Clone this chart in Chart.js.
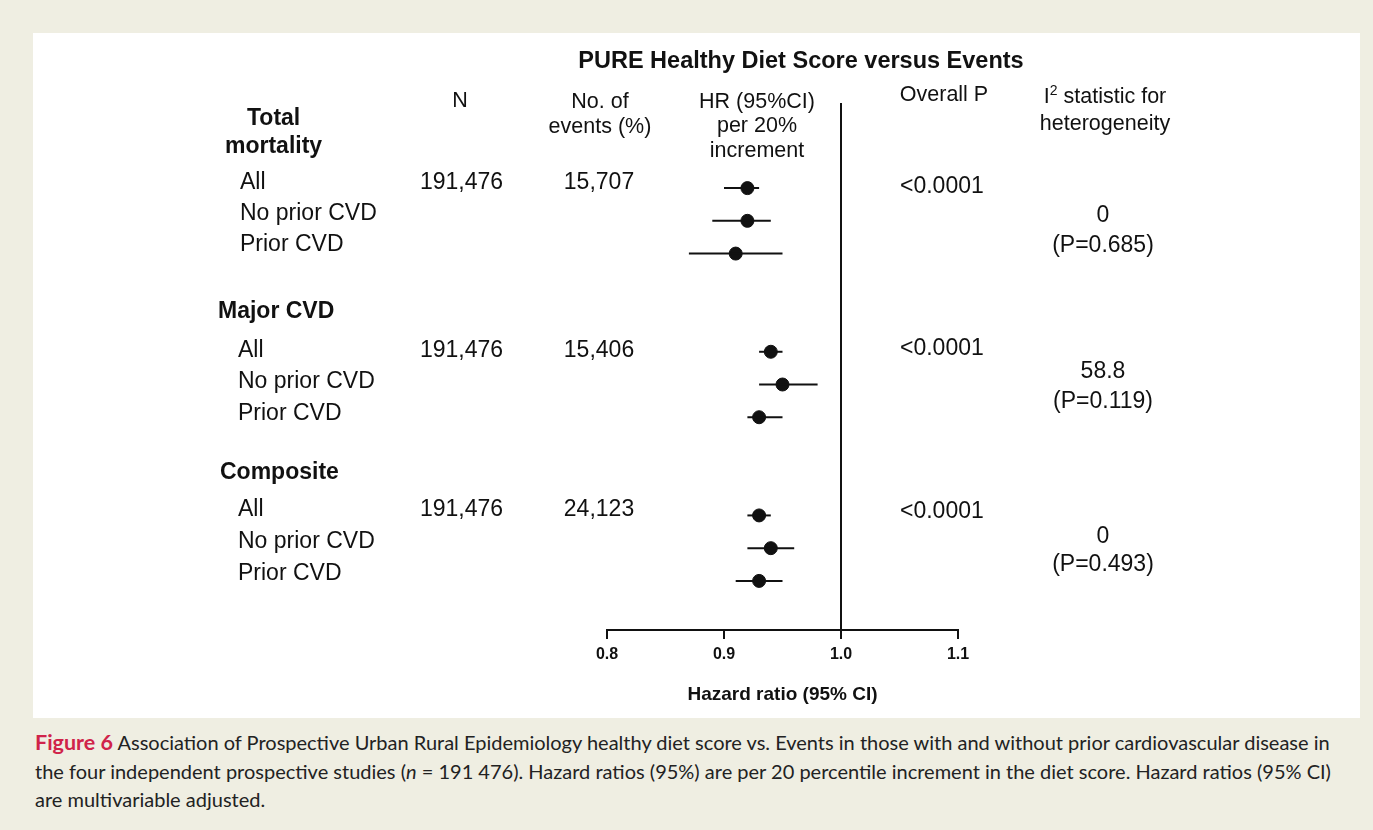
<!DOCTYPE html>
<html><head><meta charset="utf-8">
<script src="https://cdn.jsdelivr.net/npm/chart.js@4.4.1/dist/chart.umd.min.js"></script>
<style>
body{margin:0;background:#efeee2;width:1373px;height:830px;position:relative;overflow:hidden;font-family:"Liberation Sans",Arial,sans-serif;color:#111}
#panel{position:absolute;left:33px;top:33px;width:1327px;height:685px;background:#fff}
#c{position:absolute;left:0;top:0}
.t{position:absolute;white-space:nowrap;transform:translateY(-50%);font-size:23px;line-height:1}
.c{transform:translate(-50%,-50%);text-align:center}
.b{font-weight:bold}
.h{font-size:21.5px}
.ti{font-size:23.5px}
#cap{position:absolute;left:35px;top:728px;width:1322px;font-family:Lato,"Noto Sans",sans-serif;font-size:20px;line-height:28.5px;color:#222}
#cap b{color:#d0234a;font-size:21.5px}
</style></head><body>
<div id="panel"><canvas id="c" width="1327" height="685"></canvas></div>
<div id="txt"></div>
<div id="cap"><b>Figure 6</b> Association of Prospective Urban Rural Epidemiology healthy diet score vs. Events in those with and without prior cardiovascular disease in the four independent prospective studies (<i>n</i> = 191 476). Hazard ratios (95%) are per 20 percentile increment in the diet score. Hazard ratios (95% CI) are multivariable adjusted.</div>
<script>
const groups=["Total mortality","Major CVD","Composite"];
const subgroups=["All","No prior CVD","Prior CVD"];
const nTotal=["191,476","191,476","191,476"];
const events=["15,707","15,406","24,123"];
const overallP=["<0.0001","<0.0001","<0.0001"];
const i2=["0","58.8","0"];
const i2P=["(P=0.685)","(P=0.119)","(P=0.493)"];
const hr=[0.92,0.92,0.91,0.94,0.95,0.93,0.93,0.94,0.93];
const lo=[0.90,0.89,0.87,0.93,0.93,0.92,0.92,0.92,0.91];
const hi=[0.93,0.94,0.95,0.95,0.98,0.95,0.94,0.96,0.95];
const rowPos=[0,1,2,5,6,7,10,11,12];
const xTicks=[0.8,0.9,1.0,1.1];

const T=document.getElementById('txt');
function add(s,x,y,cls,html){const d=document.createElement('div');d.className='t '+(cls||'');d.style.left=x+'px';d.style.top=y+'px';if(html)d.innerHTML=s;else d.textContent=s;T.appendChild(d);}
add('PURE Healthy Diet Score versus Events',801,61,'c b ti',false);
add('N',460,101,'c h');
add('No. of',600,102,'c h');add('events (%)',600,127,'c h');
add('HR (95%CI)',757,102,'c h');add('per 20%',757,126,'c h');add('increment',757,151,'c h');
add('Overall P',944,95,'c h');
add('I<sup style="font-size:14px">2</sup> statistic for',1105,95,'c h',true);add('heterogeneity',1105,124,'c h');
add('Total',247,117,'b');add('mortality',225,145,'b');
add('Major CVD',218,310,'b');add('Composite',220,471,'b');
const rowY=[[181,212,243],[349,380,412],[508,540,572]];
const pY=[185,347,510], iY=[[214,244],[370,400],[535,563]];
for(let g=0;g<3;g++){
  for(let s=0;s<3;s++)add(subgroups[s],g===0?240:238,rowY[g][s],'');
  add(nTotal[g],420,rowY[g][0],'');
  add(events[g],599,rowY[g][0],'c');
  add(overallP[g],900,pY[g],'');
  add(i2[g],1103,iY[g][0],'c');add(i2P[g],1103,iY[g][1],'c');
}

const forest={id:'forest',afterDatasetsDraw(ch){
  const ctx=ch.ctx,x=ch.scales.x,y=ch.scales.y;
  ctx.save();ctx.strokeStyle='#111';ctx.lineWidth=2;
  ctx.beginPath();const xv=Math.round(x.getPixelForValue(1.0));ctx.moveTo(xv,ch.chartArea.top);ctx.lineTo(xv,ch.chartArea.bottom);ctx.stroke();
  hr.forEach((v,i)=>{const py=y.getPixelForValue(rowPos[i]);ctx.beginPath();ctx.moveTo(x.getPixelForValue(lo[i]),py);ctx.lineTo(x.getPixelForValue(hi[i]),py);ctx.stroke();});
  ctx.restore();
}};
new Chart(document.getElementById('c'),{
  type:'scatter',
  data:{datasets:[{data:hr.map((v,i)=>({x:v,y:rowPos[i]})),pointRadius:6.5,pointBackgroundColor:'#111',pointBorderColor:'#111',pointHoverRadius:6.5}]},
  options:{responsive:false,animation:false,events:[],
    layout:{padding:{left:574,right:402,top:70,bottom:8}},
    plugins:{legend:{display:false},tooltip:{enabled:false}},
    scales:{
      x:{type:'linear',min:0.8,max:1.1,afterBuildTicks(s){s.ticks=xTicks.map(v=>({value:v}));},
        afterFit(s){s.height=80;},
        grid:{drawOnChartArea:false,drawTicks:true,tickLength:9,color:'#111',lineWidth:2},
        border:{color:'#111',width:2},
        ticks:{color:'#111',font:{family:'Liberation Sans',size:16,weight:'bold'},padding:6,callback:v=>v.toFixed(1)},
        title:{display:true,text:'Hazard ratio (95% CI)',color:'#111',font:{family:'Liberation Sans',size:19,weight:'bold'},padding:{top:10}}},
      y:{type:'linear',min:-2.6,max:13.5,reverse:true,display:false}
    }},
  plugins:[forest]
});
</script></body></html>
